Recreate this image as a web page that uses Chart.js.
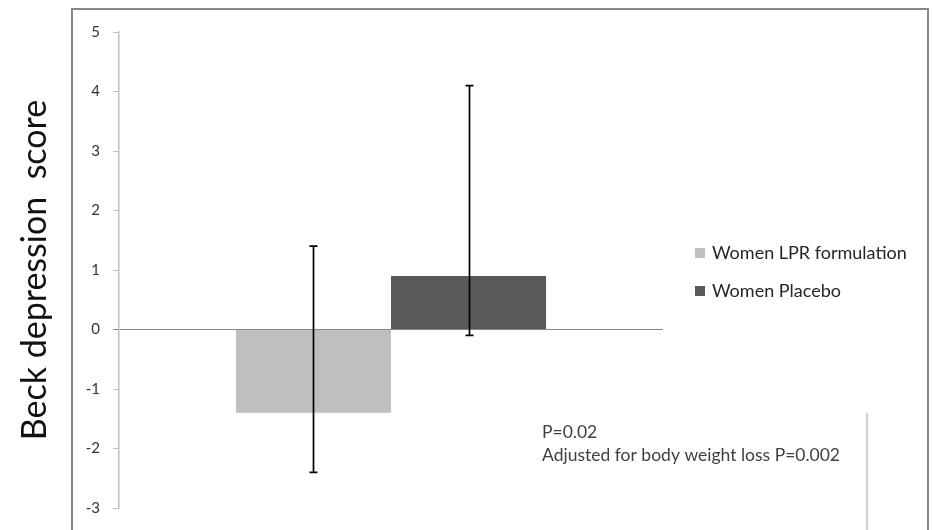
<!DOCTYPE html>
<html>
<head>
<meta charset="utf-8">
<script src="https://cdn.jsdelivr.net/npm/chart.js@4"></script>
<style>
  html, body { margin: 0; padding: 0; background: #fff; }
  #wrap { width: 933px; height: 530px; position: relative; }
</style>
</head>
<body>
<div id="wrap"><canvas id="grafico" width="933" height="530"></canvas></div>
<script>
// dados
const categorias = [""];
const series = ["Women LPR formulation", "Women Placebo"];
const valores = [-1.4, 0.9];
const erroMin = [-2.4, -0.1];
const erroMax = [1.4, 4.1];
const cores = ["#bfbfbf", "#595959"];
const ticksY = [5, 4, 3, 2, 1, 0, -1, -2, -3];
const notas = ["P=0.02", "Adjusted for body weight loss P=0.002"];

const fonte = "Lato, 'Open Sans', sans-serif";

// barras de erro desenhadas a partir das escalas
const pluginErro = {
  id: "barrasErro",
  afterDatasetsDraw(chart) {
    const ctx = chart.ctx;
    const y = chart.scales.y;
    ctx.save();
    ctx.strokeStyle = "#000";
    ctx.lineWidth = 1.7;
    chart.data.datasets.forEach((ds, i) => {
      const bar = chart.getDatasetMeta(i).data[0];
      const x = Math.round(bar.x) + 0.5;
      const yMin = y.getPixelForValue(erroMin[i]);
      const yMax = y.getPixelForValue(erroMax[i]);
      ctx.beginPath();
      ctx.moveTo(x, yMin);
      ctx.lineTo(x, yMax);
      ctx.moveTo(x - 4, yMin);
      ctx.lineTo(x + 4, yMin);
      ctx.moveTo(x - 4, yMax);
      ctx.lineTo(x + 4, yMax);
      ctx.stroke();
    });
    ctx.restore();
  },
};

// moldura, legenda e notas
const pluginExtras = {
  id: "extras",
  afterDraw(chart) {
    const ctx = chart.ctx;
    ctx.save();
    // moldura externa
    ctx.strokeStyle = "#878787";
    ctx.lineWidth = 2;
    ctx.beginPath();
    ctx.moveTo(72, 540);
    ctx.lineTo(72, 9);
    ctx.lineTo(928, 9);
    ctx.lineTo(928, 540);
    ctx.stroke();

    // legenda
    ctx.font = "18px " + fonte;
    ctx.textBaseline = "middle";
    chart.data.datasets.forEach((ds, i) => {
      const yy = 253 + i * 38;
      ctx.fillStyle = ds.backgroundColor;
      ctx.fillRect(695, yy - 5, 10, 10);
      ctx.fillStyle = "#262626";
      ctx.fillText(ds.label, 712, yy);
    });

    // notas
    ctx.font = "17.5px " + fonte;
    ctx.fillStyle = "#404040";
    notas.forEach((t, i) => {
      ctx.fillText(t, 542, 432 + i * 23);
    });
    ctx.strokeStyle = "#bfbfbf";
    ctx.lineWidth = 1.5;
    ctx.beginPath();
    ctx.moveTo(867, 413);
    ctx.lineTo(867, 530);
    ctx.stroke();
    ctx.restore();
  },
};

new Chart(document.getElementById("grafico"), {
  type: "bar",
  data: {
    labels: categorias,
    datasets: series.map((nome, i) => ({
      label: nome,
      data: [valores[i]],
      backgroundColor: cores[i],
      borderWidth: 0,
      categoryPercentage: 0.57,
      barPercentage: 1.0,
    })),
  },
  options: {
    responsive: false,
    animation: false,
    layout: { padding: { left: 0, top: 32, right: 270, bottom: 18 } },
    plugins: {
      legend: { display: false },
      tooltip: { enabled: false },
    },
    scales: {
      x: { display: false },
      y: {
        min: -3,
        max: 5,
        afterBuildTicks(scale) {
          scale.ticks = ticksY.map((v) => ({ value: v }));
        },
        afterFit(scale) {
          scale.width = 119;
        },
        border: { color: "#bfbfbf", width: 1.5 },
        grid: {
          drawOnChartArea: true,
          color: (c) => (c.tick && c.tick.value === 0 ? "#868686" : "rgba(0,0,0,0)"),
          tickColor: (c) => (c.tick && c.tick.value === 0 ? "#868686" : "#bfbfbf"),
          tickLength: 6,
          lineWidth: 1,
        },
        ticks: {
          color: "#333",
          padding: 13,
          font: { family: fonte, size: 15 },
        },
        title: {
          display: true,
          text: "Beck depression  score",
          color: "#111",
          font: { family: fonte, size: 34 },
          padding: { top: 15, bottom: 0 },
        },
      },
    },
  },
  plugins: [pluginErro, pluginExtras],
});
</script>
</body>
</html>
